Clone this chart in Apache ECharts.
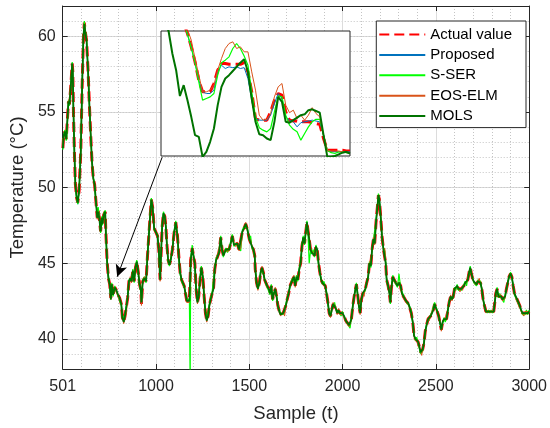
<!DOCTYPE html>
<html><head><meta charset="utf-8">
<script src="https://cdn.jsdelivr.net/npm/echarts@6/dist/echarts.min.js"></script>
<style>html,body{margin:0;padding:0;background:#fff}#c{width:550px;height:428px}</style>
</head><body><div id="c"></div>
<script>
// ---- main plot data (sample index t, temperature in °C) ----
const t = [501,505,512,519,522,531,536,543,551,554,558,563,568,575,581,588,597,604,611,616,621,628,636,643,650,657,664,671,678,685,690,696,703,710,713,720,728,731,738,745,752,758,763,770,779,788,797,805,814,820,827,834,841,848,855,862,869,876,883,890,897,904,912,919,922,929,938,947,954,961,968,975,982,990,
999,1008,1015,1022,1026,1033,1040,1047,1053,1058,1065,1072,1079,1088,1097,1106,1115,1122,1129,1137,1144,1151,1158,1165,1172,1179,1183,1186,1194,1201,1208,1215,1222,1229,1236,1243,1251,1258,1265,1272,1279,1286,1293,1301,1308,1315,1322,1329,1338,1347,1354,1361,1368,1375,1383,1392,1400,1409,1418,1427,1436,1445,1454,1463,1472,1481,1490,
1500,1507,1514,1522,1529,1532,1539,1546,1554,1561,1568,1575,1582,1589,1596,1604,1611,1618,1625,1632,1639,1646,1653,1661,1668,1675,1682,1689,1696,1703,1711,1718,1725,1732,1739,1746,1753,1760,1768,1775,1782,1789,1796,1803,1809,1814,1821,1828,1835,1842,1850,1857,1864,1871,1878,1885,1892,1900,1907,1914,1921,1928,1935,1942,1949,1957,1964,1971,1978,1985,1992,
1999,2008,2017,2026,2035,2040,2047,2055,2062,2069,2074,2080,2087,2094,2101,2108,2115,2122,2129,2137,2144,2151,2158,2165,2172,2179,2187,2192,2197,2204,2211,2219,2226,2231,2236,2244,2251,2256,2261,2269,2276,2285,2294,2302,2311,2318,2326,2333,2340,2347,2354,2361,2368,2376,2383,2390,2397,2404,2411,2418,2424,2429,2436,2443,2450,2458,2465,2472,2479,2486,2493,2500,2507,2515,2522,
2529,2536,2543,2550,2557,2564,2571,2579,2586,2593,2600,2607,2614,2621,2629,2636,2643,2650,2657,2664,2671,2678,2684,2689,2696,2703,2711,2718,2725,2732,2739,2746,2753,2760,2768,2775,2782,2789,2796,2803,2810,2816,2821,2828,2835,2842,2850,2857,2864,2871,2878,2885,2892,2900,2907,2914,2921,2928,2935,2942,2949,2957,2964,2971,2978,2985,2992,3000];

const actual = [52.6,53.4,53.7,53.2,53.3,55.7,55.5,56.6,58.2,57.7,54.8,52.2,50.2,49.3,49.0,49.8,52.4,56.6,59.9,60.9,60.3,59.7,57.7,55.5,53.5,51.7,50.6,50.2,49.1,48.0,48.5,48.0,47.1,48.0,47.6,48.2,48.4,47.1,45.1,44.0,43.6,42.7,43.6,42.9,43.4,43.2,42.9,42.7,42.3,41.4,41.1,41.5,41.6,42.7,43.8,44.0,43.8,44.5,43.8,44.7,45.1,44.5,43.6,43.2,42.3,43.8,44.0,43.8,45.4,46.7,48.0,49.2,48.7,47.3,
47.2,46.8,45.9,43.9,45.2,47.4,48.3,48.1,47.4,46.3,45.2,44.9,45.2,45.9,47.0,47.7,46.8,45.5,44.4,43.9,43.7,43.5,43.0,42.5,42.4,42.5,44.0,45.2,46.0,45.5,45.0,43.3,42.4,42.8,43.9,44.7,44.1,42.8,41.7,41.2,41.5,42.2,42.6,43.0,43.3,44.6,45.2,45.4,45.7,46.7,45.9,45.5,45.7,45.9,45.8,45.9,46.3,46.8,46.2,46.2,46.3,45.9,45.9,47.1,47.3,47.6,47.2,
46.6,46.7,46.1,45.9,45.5,44.6,43.7,43.3,43.7,44.4,44.7,44.4,43.9,43.7,43.5,43.3,43.0,43.5,42.6,43.0,43.3,42.8,42.2,41.8,41.6,41.5,41.7,41.6,42.2,42.6,43.0,43.5,43.7,43.9,44.1,43.5,44.1,43.9,44.6,45.0,46.1,46.7,46.3,47.1,47.7,47.2,46.6,45.9,45.7,45.8,45.5,46.1,45.9,45.0,44.4,43.9,43.7,43.7,43.5,43.0,42.4,41.7,41.5,41.9,42.3,42.3,42.0,41.7,41.9,41.7,41.6,
41.7,41.5,41.2,41.1,40.9,40.8,41.3,42.2,42.8,43.3,43.6,43.0,42.2,41.7,42.6,43.0,42.9,43.3,43.7,44.1,45.0,44.8,45.9,46.6,46.3,47.7,48.8,49.5,49.2,48.1,46.8,45.9,45.9,45.0,43.9,43.5,43.0,42.4,43.3,44.1,43.9,43.7,43.5,43.7,43.5,43.0,42.8,42.7,42.5,42.4,42.3,42.2,41.7,41.1,40.2,40.0,40.0,39.8,39.5,39.1,39.0,39.3,39.7,40.5,40.9,41.3,41.3,41.5,41.7,41.9,42.3,42.2,41.8,41.5,41.4,
40.6,41.1,41.3,41.2,41.3,41.9,42.4,42.8,42.6,42.8,43.3,43.3,43.5,43.3,43.2,43.3,43.3,43.5,43.7,43.6,43.9,44.4,44.7,44.4,44.0,43.8,43.7,43.6,43.8,43.9,43.7,43.3,42.6,42.2,41.8,41.8,41.8,41.8,41.8,41.8,41.8,41.9,43.0,43.3,42.8,42.9,42.8,42.6,42.5,42.8,43.3,43.7,44.1,44.3,44.1,43.5,43.0,42.8,42.6,42.4,42.2,41.9,41.7,41.6,41.7,41.8,41.7,41.8];

const proposed = [52.6,53.4,53.7,53.2,53.3,55.7,55.5,56.6,58.2,57.7,54.8,52.2,50.2,49.3,48.9,49.8,52.4,56.6,59.9,60.9,60.3,59.7,57.7,55.5,53.5,51.7,50.6,50.2,49.1,48.0,48.5,48.0,47.1,48.0,47.6,48.2,48.4,47.1,45.1,44.0,43.6,42.7,43.6,42.9,43.4,43.2,42.9,42.7,42.3,41.4,41.1,41.5,41.6,42.7,43.8,44.0,43.8,44.5,43.8,44.7,45.1,44.5,43.6,43.2,42.3,43.8,44.0,43.8,45.4,46.7,48.0,49.2,48.7,47.3,
47.2,46.8,45.9,43.9,45.2,47.4,48.3,48.1,47.4,46.3,45.2,44.9,45.2,45.9,47.0,47.7,46.8,45.5,44.4,43.9,43.7,43.5,43.0,42.5,42.4,42.5,44.0,45.2,46.0,45.5,45.0,43.3,42.4,42.8,43.9,44.7,44.1,42.8,41.7,41.2,41.5,42.2,42.6,43.0,43.3,44.6,45.2,45.4,45.7,46.7,45.9,45.5,45.7,45.9,45.8,45.9,46.3,46.8,46.2,46.2,46.3,45.9,45.9,47.1,47.3,47.6,47.2,
46.6,46.7,46.1,45.9,45.5,44.6,43.7,43.3,43.7,44.4,44.7,44.4,43.9,43.7,43.5,43.3,43.0,43.5,42.6,43.0,43.3,42.8,42.2,41.8,41.6,41.5,41.7,41.6,42.2,42.6,43.0,43.5,43.7,43.9,44.1,43.5,44.1,43.9,44.6,45.0,46.1,46.7,46.3,47.1,47.7,47.2,46.6,45.9,45.7,45.8,45.5,46.1,45.9,45.0,44.4,43.9,43.7,43.7,43.5,43.0,42.4,41.7,41.5,41.9,42.3,42.3,42.0,41.7,41.9,41.7,41.6,
41.7,41.5,41.2,41.1,40.9,40.8,41.3,42.2,42.8,43.3,43.6,43.0,42.2,41.7,42.6,43.0,42.9,43.3,43.7,44.1,45.0,44.8,45.9,46.6,46.3,47.7,48.8,49.5,49.2,48.1,46.8,45.9,45.9,45.0,43.9,43.5,43.0,42.4,43.3,44.1,43.9,43.7,43.5,43.7,43.5,43.0,42.8,42.7,42.5,42.4,42.3,42.2,41.7,41.1,40.2,40.0,40.0,39.8,39.5,39.1,39.0,39.3,39.7,40.5,40.9,41.3,41.3,41.5,41.7,41.9,42.3,42.2,41.8,41.5,41.4,
40.6,41.1,41.3,41.2,41.3,41.9,42.4,42.8,42.6,42.8,43.3,43.3,43.5,43.3,43.2,43.3,43.3,43.5,43.7,43.6,43.9,44.4,44.7,44.4,44.0,43.8,43.7,43.6,43.8,43.9,43.7,43.3,42.6,42.2,41.8,41.8,41.8,41.8,41.8,41.8,41.8,41.9,43.0,43.3,42.8,42.9,42.8,42.6,42.5,42.8,43.3,43.7,44.1,44.3,44.1,43.5,43.0,42.8,42.6,42.4,42.2,41.9,41.7,41.6,41.7,41.8,41.7,41.8];

const sser = [52.5,53.5,53.8,53.1,53.3,55.8,55.4,56.7,58.3,57.6,54.7,52.1,50.1,49.2,48.9,49.9,52.5,56.7,60.1,61.0,60.4,59.8,57.6,55.4,53.4,51.8,50.7,50.1,49.0,48.3,48.7,48.1,47.0,48.1,47.5,48.3,48.5,47.0,45.0,44.2,43.5,42.6,43.7,42.8,43.5,43.1,42.8,42.8,42.2,41.3,41.2,41.6,41.5,42.8,43.9,43.9,43.9,44.6,43.7,44.8,45.2,44.4,43.5,43.1,42.4,43.9,44.1,43.7,45.5,46.8,48.2,49.3,48.6,47.2,
47.1,46.9,45.8,44.0,45.3,47.6,48.4,48.0,47.3,46.2,45.1,44.8,45.3,46.0,47.1,47.8,46.7,45.4,44.3,43.8,43.6,43.4,43.1,42.6,42.5,42.6,37.0,45.3,46.2,45.4,44.9,43.2,42.5,42.9,44.1,44.8,44.0,42.7,41.8,41.3,41.4,42.3,42.7,43.1,43.2,44.7,45.3,45.3,45.8,46.8,45.8,45.4,45.8,46.0,45.7,46.0,46.4,46.9,46.1,46.3,46.2,46.0,45.8,47.2,47.4,47.5,47.3,
46.5,46.8,46.0,45.8,45.4,44.7,43.6,43.4,43.8,44.5,44.6,44.3,44.0,43.6,43.4,43.4,42.9,43.6,42.5,43.1,43.2,42.9,42.1,41.9,41.7,41.6,41.6,41.7,42.3,42.7,43.1,43.4,43.8,44.0,44.0,43.6,44.2,43.8,44.7,45.1,46.2,46.8,46.2,47.2,47.8,47.1,45.0,45.8,45.6,45.9,45.4,46.2,45.8,44.9,44.3,44.0,43.6,43.8,43.4,43.1,42.3,41.8,41.6,42.0,42.2,42.4,41.9,41.8,41.8,41.8,41.5,
41.8,41.4,41.3,41.0,41.0,40.7,41.4,42.3,42.7,43.4,43.7,42.9,42.1,41.8,42.7,42.9,43.0,43.2,43.8,44.0,45.1,44.7,46.0,46.5,46.4,47.8,48.9,49.6,49.1,48.0,46.7,46.0,45.8,45.1,43.8,43.4,43.1,42.3,43.4,44.2,43.8,43.8,43.4,44.3,43.4,43.1,42.9,42.6,42.6,42.3,42.4,42.1,41.8,41.0,40.3,39.9,40.1,39.7,39.6,39.0,39.1,39.2,39.8,40.4,41.0,41.2,41.4,41.4,41.8,41.8,42.4,42.1,41.9,41.4,41.5,
40.7,41.0,41.4,41.1,41.4,41.8,42.5,42.7,42.7,42.7,43.4,43.2,43.6,43.2,43.3,43.2,43.4,43.4,43.8,43.5,44.0,44.3,44.8,44.3,44.1,43.7,43.8,43.5,43.9,43.8,43.8,43.2,42.7,42.1,41.9,41.7,41.9,41.7,41.9,41.7,41.9,42.0,42.9,43.4,42.7,43.0,42.7,42.7,42.4,42.9,43.2,43.8,44.0,44.4,44.0,43.6,42.9,42.9,42.5,42.5,42.1,42.0,41.6,41.7,41.6,41.9,41.6,41.9];

const eosElm = [52.7,53.3,53.6,53.3,53.2,55.6,55.6,56.5,58.1,57.8,54.9,52.3,50.3,49.4,49.1,49.7,52.3,56.5,59.8,60.8,60.4,59.6,57.8,55.6,53.6,51.6,50.5,50.3,49.2,47.9,48.4,48.1,47.2,47.9,47.7,48.1,48.3,47.2,45.2,43.9,43.7,42.6,43.5,43.0,43.3,43.3,42.8,42.6,42.4,41.5,41.0,41.4,41.7,42.6,43.7,44.1,43.7,44.4,43.9,44.6,45.0,44.6,43.7,43.3,42.2,43.7,44.1,43.9,45.3,46.6,47.9,49.1,48.8,47.4,
47.3,46.7,46.0,43.8,45.1,47.3,48.2,48.2,47.5,46.4,45.3,45.0,45.1,45.8,46.9,47.6,46.9,45.6,44.5,44.0,43.8,43.6,42.9,42.4,42.3,42.4,43.9,45.1,45.9,45.6,45.1,43.4,42.3,42.7,43.8,44.6,44.2,42.9,41.6,41.1,41.6,42.1,42.5,42.9,43.4,44.5,45.1,45.5,45.6,46.6,46.0,45.6,45.6,45.8,45.9,45.8,46.2,46.7,46.3,46.1,46.4,45.8,46.0,47.0,47.2,47.7,47.1,
46.7,46.6,46.2,46.0,45.6,44.5,43.8,43.2,43.6,44.3,44.8,44.5,43.8,43.8,43.6,43.2,43.1,43.4,42.7,42.9,43.4,42.7,42.3,41.7,41.5,41.4,41.8,41.5,42.1,42.5,42.9,43.6,43.6,43.8,44.2,43.4,44.0,44.0,44.5,44.9,46.0,46.6,46.4,47.0,47.6,47.3,46.7,46.0,45.8,45.7,45.6,46.0,46.0,45.1,44.5,43.8,43.8,43.6,43.6,42.9,42.5,41.6,41.4,41.8,42.4,42.2,42.1,41.6,42.0,41.6,41.7,
41.6,41.6,41.1,41.2,40.8,40.9,41.2,42.1,42.9,43.2,43.5,43.1,42.3,41.6,42.5,43.1,42.8,43.4,43.6,44.2,44.9,44.9,45.8,46.7,46.2,47.6,48.7,49.4,49.3,48.2,46.9,45.8,46.0,44.9,44.0,43.6,42.9,42.5,43.2,44.0,44.0,43.6,43.6,43.6,43.6,42.9,42.7,42.8,42.4,42.5,42.2,42.3,41.6,41.2,40.1,40.1,39.9,39.9,39.4,39.2,38.9,39.4,39.6,40.6,40.8,41.4,41.2,41.6,41.6,42.0,42.2,42.3,41.7,41.6,41.3,
40.5,41.2,41.2,41.3,41.2,42.0,42.3,42.9,42.5,42.9,43.2,43.4,43.4,43.4,43.1,43.4,43.2,43.6,43.6,43.7,43.8,44.5,44.6,44.5,43.9,43.9,43.6,43.7,43.7,44.0,43.6,43.4,42.5,42.3,41.7,41.9,41.7,41.9,41.7,41.9,41.7,41.8,43.1,43.2,42.9,42.8,42.9,42.5,42.6,42.7,43.4,43.6,44.2,44.2,44.2,43.4,43.1,42.7,42.7,42.3,42.3,41.8,41.8,41.5,41.8,41.7,41.8,41.7];

const mols = [52.6,53.4,53.7,53.2,53.3,55.7,55.5,56.6,58.2,57.7,54.8,52.2,50.2,49.3,49.0,49.8,52.4,56.6,59.9,60.8,60.3,59.7,57.7,55.5,53.5,51.7,50.6,50.2,49.1,48.0,48.4,48.0,47.1,48.0,47.6,48.2,48.4,47.1,45.1,44.0,43.6,42.6,43.6,42.9,43.4,43.2,42.9,42.7,42.3,41.4,41.1,41.5,41.6,42.7,43.8,44.0,43.8,44.5,43.8,44.7,45.1,44.5,43.6,43.2,42.4,43.8,44.0,43.8,45.4,46.7,48.0,49.2,48.7,47.3,
47.2,46.8,45.9,43.9,45.2,47.4,48.3,48.1,47.4,46.3,45.2,44.9,45.2,45.9,47.0,47.7,46.8,45.5,44.4,43.9,43.7,43.5,43.0,42.5,42.4,42.5,44.0,45.2,46.0,45.5,45.0,43.3,42.4,42.8,43.9,44.7,44.1,42.8,41.7,41.2,41.5,42.2,42.6,43.0,43.3,44.6,45.2,45.4,45.7,46.7,45.9,45.5,45.7,45.9,45.8,45.9,46.3,46.8,46.2,46.2,46.3,45.9,45.9,47.1,47.3,47.6,47.2,
46.6,46.7,46.1,45.9,45.5,44.6,43.7,43.3,43.7,44.4,44.7,44.4,43.9,43.7,43.5,43.3,43.0,43.5,42.6,43.0,43.3,42.8,42.2,41.8,41.6,41.5,41.7,41.6,42.2,42.6,43.0,43.5,43.7,43.9,44.1,43.5,44.1,43.9,44.6,45.0,46.1,46.7,46.3,47.1,47.7,47.2,46.6,45.9,45.7,45.8,45.5,46.1,45.9,45.0,44.4,43.9,43.7,43.7,43.5,43.0,42.4,41.7,41.5,41.9,42.3,42.3,42.0,41.7,41.9,41.7,41.6,
41.7,41.5,41.2,41.1,40.9,40.8,41.3,42.2,42.8,43.3,43.6,43.0,42.2,41.7,42.6,43.0,42.9,43.3,43.7,44.1,45.0,44.8,45.9,46.6,46.3,47.7,48.8,49.5,49.2,48.1,46.8,45.9,45.9,45.0,43.9,43.5,43.0,42.4,43.3,44.1,43.9,43.7,43.5,43.7,43.5,43.0,42.8,42.7,42.5,42.4,42.3,42.2,41.7,41.1,40.2,40.0,40.0,39.8,39.5,39.1,39.0,39.3,39.7,40.5,40.9,41.3,41.3,41.5,41.7,41.9,42.3,42.2,41.8,41.5,41.4,
40.6,41.1,41.3,41.2,41.3,41.9,42.4,42.8,42.6,42.8,43.3,43.3,43.5,43.3,43.2,43.3,43.3,43.5,43.7,43.6,43.9,44.4,44.7,44.4,44.0,43.8,43.7,43.6,43.8,43.9,43.7,43.3,42.6,42.2,41.8,41.8,41.8,41.8,41.8,41.8,41.8,41.9,43.0,43.3,42.8,42.9,42.8,42.6,42.5,42.8,43.3,43.7,44.1,44.3,44.1,43.5,43.0,42.8,42.6,42.4,42.2,41.9,41.7,41.6,41.7,41.8,41.7,41.8];

// ---- inset (zoomed window) data ----
const tIn = [750,751,752,753,754,755,756,757,758,759,760,761,762,763,764,765,766,767,768,769,770,771,772,773,774,775,776,777,778,779,780,781,782,783,784,785,786,787,788,789,790,791,792,793,794,795,796,797,798,799,800];
const actualIn = [45.4,45.3,45.1,45.0,44.9,44.8,44.6,44.47,44.31,44.13,43.91,43.77,43.77,43.77,43.87,44.03,44.11,44.11,44.10,44.10,44.10,44.10,44.12,44.01,43.77,43.45,43.43,43.43,43.43,43.53,43.67,43.75,43.73,43.53,43.43,43.42,43.42,43.41,43.41,43.41,43.40,43.39,43.38,43.21,43.07,43.07,43.07,43.07,43.07,43.06,43.06];
const proposedIn = [45.4,45.3,45.1,45.0,44.9,44.8,44.6,44.46,44.30,44.12,43.91,43.77,43.75,43.75,43.79,44.01,44.09,44.05,44.07,44.06,44.07,44.05,44.06,43.93,43.67,43.45,43.43,43.43,43.43,43.49,43.63,43.75,43.69,43.47,43.43,43.41,43.35,43.40,43.41,43.42,43.43,43.42,43.41,43.25,43.07,43.05,43.05,43.05,43.05,43.05,43.05];
const sserIn = [45.4,45.3,45.1,45.0,44.9,44.8,44.6,44.46,44.30,44.12,43.89,43.67,43.69,43.71,43.75,43.97,44.12,44.15,44.19,44.29,44.35,44.29,44.20,44.09,43.77,43.47,43.34,43.31,43.29,43.33,43.53,43.72,43.71,43.49,43.37,43.32,43.29,43.19,43.27,43.35,43.41,43.44,43.44,43.25,43.07,43.04,43.03,43.05,43.05,43.04,43.03];
const eosElmIn = [45.4,45.3,45.1,45.0,44.9,44.8,44.65,44.52,44.39,44.17,43.97,43.77,43.77,43.79,43.85,44.03,44.17,44.29,44.35,44.37,44.29,44.31,44.25,44.25,44.01,43.79,43.49,43.43,43.44,43.51,43.71,43.83,43.87,43.61,43.52,43.55,43.45,43.49,43.43,43.49,43.58,43.51,43.47,43.25,43.07,43.06,43.06,43.06,43.05,43.04,43.04];
const molsIn = [44.7,44.6,44.5,44.23,44.03,43.72,43.85,43.67,43.47,43.25,43.23,42.99,43.05,43.17,43.33,43.61,43.83,43.93,43.97,44.02,44.07,44.12,44.16,44.01,43.69,43.41,43.26,43.25,43.21,43.19,43.41,43.71,43.65,43.41,43.40,43.43,43.46,43.49,43.50,43.55,43.56,43.54,43.52,43.25,42.99,42.99,43.00,43.02,43.04,43.05,43.03];

// ---- axes / labels ----
const xTickLabels = ['501','1000','1500','2000','2500','3000'];
const xTickValues = [500,1000,1500,2000,2500,3000];
const yTicks = [40,45,50,55,60];
const seriesNames = ['Actual value','Proposed','S-SER','EOS-ELM','MOLS'];
const arrowFrom = [1033, 52.0];
const arrowTo = [792, 44.1];

const FONT = '"Liberation Sans", Arial, Helvetica, sans-serif';
const AX = '#262626';
const pair = (xs, ys) => xs.map((x, i) => [x, ys[i]]);

const styles = {
  'Actual value': {color:'#ff0000', width:3, type:[10,5]},
  'Proposed': {color:'#0072BD', width:1, type:'solid'},
  'S-SER': {color:'#00ff00', width:1.2, type:'solid'},
  'EOS-ELM': {color:'#D95319', width:1, type:'solid'},
  'MOLS': {color:'#007300', width:1.8, type:'solid'}
};
const mainData = {'Actual value':actual,'Proposed':proposed,'S-SER':sser,'EOS-ELM':eosElm,'MOLS':mols};
const insetData = {'Actual value':actualIn,'Proposed':proposedIn,'S-SER':sserIn,'EOS-ELM':eosElmIn,'MOLS':molsIn};

const series = [];
seriesNames.forEach((n, i) => {
  const s = {
    name: n, type: 'line', xAxisIndex: 0, yAxisIndex: 0,
    data: pair(t, mainData[n]), symbol: 'none', silent: true, z: 2 + i * 0.01,
    lineStyle: styles[n], itemStyle: {color: styles[n].color}, emphasis: {disabled: true}
  };
  if (i === 0) {
    s.markLine = {
      silent: true, symbol: ['none', 'arrow'], symbolSize: [9, 12],
      label: {show: false}, emphasis: {disabled: true},
      lineStyle: {color: '#000', width: 1, type: 'solid'},
      data: [[{coord: arrowFrom}, {coord: arrowTo}]]
    };
  }
  series.push(s);
});
seriesNames.forEach((n) => {
  series.push({
    name: n, type: 'line', xAxisIndex: 2, yAxisIndex: 3,
    data: pair(tIn, insetData[n]), symbol: 'none', silent: true, z: 12, clip: true,
    lineStyle: Object.assign({}, styles[n], n === 'MOLS' ? {width: 2} : {}),
    itemStyle: {color: styles[n].color}, emphasis: {disabled: true}
  });
});

const chart = echarts.init(document.getElementById('c'));
chart.setOption({
  animation: false,
  backgroundColor: '#fff',
  textStyle: {fontFamily: FONT},
  grid: [
    {left: 62, top: 6, width: 468, height: 364, show: false},
    {left: 161, top: 31, width: 189, height: 125, show: true, backgroundColor: '#fff', borderColor: AX, borderWidth: 1, z: 10}
  ],
  legend: {
    data: seriesNames, orient: 'vertical', right: 24, top: 21,
    itemWidth: 46, itemHeight: 15, itemGap: 5.4,
    padding: [6, 14, 4, 2],
    backgroundColor: '#fff', borderColor: AX, borderWidth: 1, borderRadius: 0,
    itemStyle: {opacity: 0},
    textStyle: {fontSize: 15, color: '#000', fontFamily: FONT},
    selectedMode: false, z: 20
  },
  xAxis: [
    {gridIndex: 0, type: 'value', min: 500, max: 3000, interval: 500, position: 'bottom',
     name: 'Sample (t)', nameLocation: 'middle', nameGap: 35,
     nameTextStyle: {fontSize: 18.5, color: AX, fontFamily: FONT},
     axisLine: {show: true, onZero: false, lineStyle: {color: AX, width: 1}},
     axisTick: {show: true, inside: true, length: 5, lineStyle: {color: AX}},
     axisLabel: {fontSize: 16, color: AX, margin: 10, fontFamily: FONT,
       formatter: v => xTickLabels[xTickValues.indexOf(v)]},
     splitLine: {show: true, lineStyle: {color: '#dcdcdc', width: 1}},
     minorTick: {show: false, splitNumber: 5},
     minorSplitLine: {show: true, lineStyle: {color: '#c4c4c4', width: 1, type: [1, 2]}}},
    {gridIndex: 0, type: 'value', min: 500, max: 3000, interval: 500, position: 'top',
     axisLine: {show: true, onZero: false, lineStyle: {color: AX, width: 1}},
     axisTick: {show: true, inside: true, length: 5, lineStyle: {color: AX}},
     axisLabel: {show: false}, splitLine: {show: false}},
    {gridIndex: 1, type: 'value', min: 750, max: 800, show: false}
  ],
  yAxis: [
    {gridIndex: 0, type: 'value', min: 38, max: 62, interval: 1, position: 'left',
     name: 'Temperature (°C)', nameLocation: 'middle', nameGap: 24,
     nameTextStyle: {fontSize: 18.5, color: AX, fontFamily: FONT},
     axisLine: {show: true, onZero: false, lineStyle: {color: AX, width: 1}},
     axisTick: {show: true, inside: true, length: 5, lineStyle: {color: AX}, customValues: yTicks},
     axisLabel: {fontSize: 16, color: AX, margin: 7, fontFamily: FONT, customValues: yTicks},
     splitLine: {show: true, lineStyle: {color: '#dcdcdc', width: 1}}},
    {gridIndex: 0, type: 'value', min: 38, max: 62, interval: 1, position: 'right',
     axisLine: {show: true, onZero: false, lineStyle: {color: AX, width: 1}},
     axisTick: {show: true, inside: true, length: 5, lineStyle: {color: AX}, customValues: yTicks},
     axisLabel: {show: false}, splitLine: {show: false}},
    {gridIndex: 0, type: 'value', min: 38, max: 62, interval: 1, position: 'left',
     axisLine: {show: false}, axisTick: {show: false}, axisLabel: {show: false},
     splitLine: {show: true, lineStyle: {color: '#c4c4c4', width: 1, type: [1, 2]}}},
    {gridIndex: 1, type: 'value', min: 43.0, max: 44.5, show: false}
  ],
  series: series
});
</script>
</body></html>
